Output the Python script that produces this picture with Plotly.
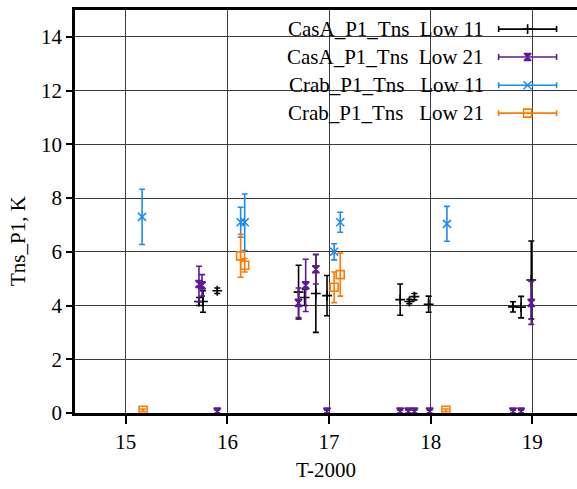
import plotly.graph_objects as go

# ---- data ----
casa11_x = [15.72, 15.76, 15.90, 16.70, 16.76, 16.87, 16.98, 17.70, 17.79, 17.84, 17.98, 18.81, 18.89, 18.99]
casa11_y = [4.15, 4.15, 4.55, 4.50, 4.30, 4.45, 4.37, 4.22, 4.15, 4.33, 4.05, 3.95, 3.94, 4.95]
casa11_e = [0.15, 0.40, 0.10, 1.00, 0.30, 1.45, 0.75, 0.58, 0.08, 0.12, 0.30, 0.19, 0.40, 1.45]

casa21_x = [15.72, 15.75, 15.90, 16.70, 16.77, 16.87, 16.98, 17.70, 17.78, 17.84, 17.99, 18.81, 18.89, 18.99]
casa21_y = [4.80, 4.75, 0.05, 4.10, 4.75, 5.35, 0.05, 0.05, 0.05, 0.05, 0.05, 0.05, 0.05, 4.10]
casa21_e = [0.66, 0.40, 0.05, 0.55, 0.97, 0.55, 0.05, 0.05, 0.05, 0.05, 0.05, 0.05, 0.05, 0.80]

crab11_x = [15.16, 16.13, 16.17, 17.05, 17.11, 18.16]
crab11_y = [7.30, 7.10, 7.10, 6.00, 7.10, 7.04]
crab11_e = [1.03, 0.56, 1.05, 0.30, 0.37, 0.65]

crab21_x = [15.17, 16.13, 16.17, 17.05, 17.11, 18.15]
crab21_y = [0.10, 5.85, 5.50, 4.68, 5.15, 0.10]
crab21_e = [0.05, 0.80, 0.25, 0.57, 0.80, 0.05]

series_names = ["CasA_P1_Tns\u00a0\u00a0Low 11", "CasA_P1_Tns\u00a0\u00a0Low 21",
                "Crab_P1_Tns\u00a0\u00a0\u00a0Low 11", "Crab_P1_Tns\u00a0\u00a0\u00a0Low 21"]
x_ticks = [15, 16, 17, 18, 19]
y_ticks = [0, 2, 4, 6, 8, 10, 12, 14]

colors = ["#000000", "#5e1a96", "#1a8cf0", "#ff7a00"]
symbols = ["cross-thin", "hourglass", "x-thin", "square-open"]
msizes = [7, 7, 8, 8]

FONT = "Liberation Serif"
FS = 21

fig = go.Figure()
data = [(casa11_x, casa11_y, casa11_e), (casa21_x, casa21_y, casa21_e),
        (crab11_x, crab11_y, crab11_e), (crab21_x, crab21_y, crab21_e)]

# legend box (white) covering gridlines
fig.add_shape(type="rect", xref="x", yref="y", x0=16.4, x1=19.6, y0=10.5, y1=15.0,
              fillcolor="white", line=dict(width=0), layer="below")

for i, (xs, ys, es) in enumerate(data):
    fig.add_trace(go.Scatter(
        x=xs, y=ys, mode="markers", name=series_names[i], showlegend=False,
        marker=dict(symbol=symbols[i], size=msizes[i], color=colors[i],
                    line=dict(color=colors[i], width=1.6)),
        error_y=dict(type="data", array=es, color=colors[i], thickness=1.6, width=3),
    ))

# custom legend (samples on the right, text right-aligned)
leg_y = [14.29, 13.25, 12.2, 11.16]
leg_xc = 18.954
leg_half = 0.285
leg_text_x = 18.548
for i in range(4):
    fig.add_trace(go.Scatter(
        x=[leg_xc], y=[leg_y[i]], mode="markers", showlegend=False, hoverinfo="skip",
        marker=dict(symbol=symbols[i], size=msizes[i], color=colors[i],
                    line=dict(color=colors[i], width=1.6)),
        error_x=dict(type="data", array=[leg_half], color=colors[i], thickness=1.6, width=3),
    ))
    fig.add_annotation(x=leg_text_x, y=leg_y[i], xref="x", yref="y", text=series_names[i],
                       showarrow=False, xanchor="right", yanchor="middle",
                       font=dict(family=FONT, size=FS, color="#000"))

fig.update_layout(
    width=577, height=489,
    margin=dict(l=75, r=0, t=10, b=76),
    paper_bgcolor="white", plot_bgcolor="white",
    font=dict(family=FONT, size=FS, color="#000"),
    showlegend=False,
)
fig.update_xaxes(range=[14.5, 19.44], tickvals=x_ticks, ticks="outside", ticklen=8, tickwidth=1.5,
                 tickcolor="#000", showgrid=True, gridcolor="#3a3a3a", gridwidth=1.2,
                 showline=True, linecolor="#000", linewidth=2.5, mirror=True, zeroline=False,
                 tickfont=dict(family=FONT, size=FS))
fig.update_yaxes(range=[0, 15], tickvals=y_ticks, ticks="outside", ticklen=6, tickwidth=1.5,
                 tickcolor="#000", showgrid=True, gridcolor="#3a3a3a", gridwidth=1.2,
                 showline=True, linecolor="#000", linewidth=2.5, mirror=False, zeroline=False,
                 tickfont=dict(family=FONT, size=FS))

fig.add_annotation(x=0.5, y=-(470 - 413) / 403, xref="paper", yref="paper", text="T-2000",
                   showarrow=False, yanchor="middle", font=dict(family=FONT, size=FS))
fig.add_annotation(x=-(75 - 18) / 502, y=(413 - 241) / 403, xref="paper", yref="paper",
                   text="Tns_P1, K", showarrow=False, textangle=-90, xanchor="center",
                   yanchor="middle", font=dict(family=FONT, size=FS))

fig.write_html("out.html")
